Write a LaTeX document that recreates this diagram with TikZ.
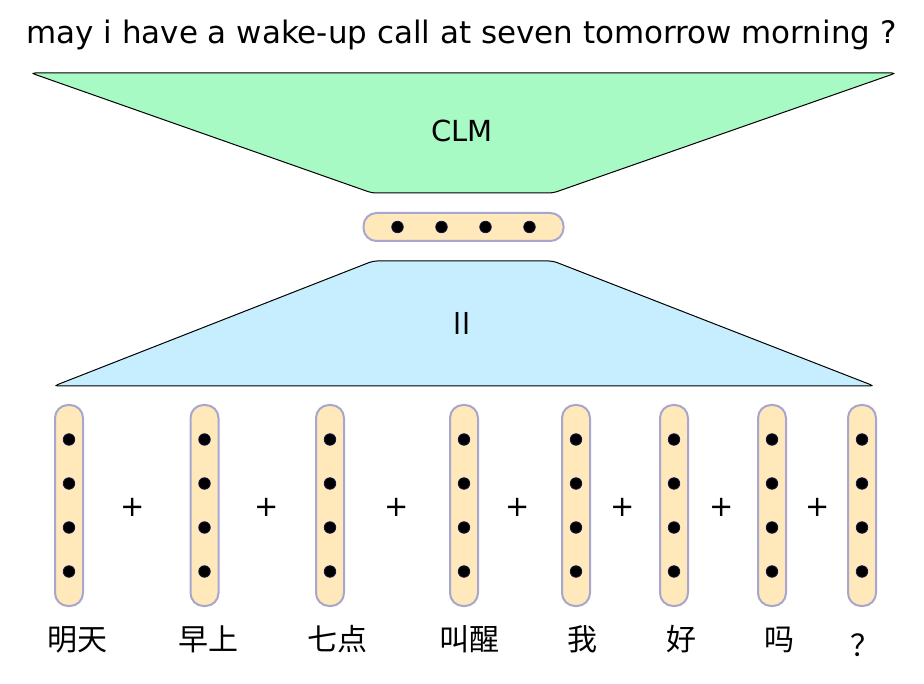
\documentclass[tikz,border=0pt]{standalone}
\usepackage{fontspec}
\setmainfont{DejaVu Sans}
\newfontfamily\cjk{Noto Sans CJK SC}
\definecolor{clmgreen}{RGB}{168,250,196}
\definecolor{llblue}{RGB}{198,238,254}
\definecolor{vecfill}{RGB}{255,232,186}
\definecolor{vecedge}{RGB}{166,166,206}
\definecolor{dotedge}{RGB}{20,20,70}
\tikzset{
  vecbox/.style={draw=vecedge, fill=vecfill, line width=2pt, rounded corners=13pt, inner sep=0pt},
  dot/.style={circle, fill=black, draw=dotedge, line width=0.8pt, minimum size=11.5pt, inner sep=0pt},
  bigtext/.style={font=\fontsize{29}{34}\selectfont},
  cjktext/.style={font=\cjk\fontsize{30}{36}\selectfont},
}
\begin{document}
\begin{tikzpicture}[x=1pt,y=-1pt]
    \useasboundingbox (0,0) rectangle (924,684);

    % Output sentence
    \node[font=\fontsize{30.95}{36}\selectfont, anchor=base] (title) at (461.5,44) {may i have a wake-up call at seven tomorrow morning ?};

    % CLM decoder
    \draw[fill=clmgreen, line width=1pt, rounded corners=4pt] (31,73) -- (896,73) -- (553,193) -- (372,193) -- cycle;
    \node[bigtext] (clm) at (462,131) {CLM};

    % Sentence vector
    \node[vecbox, minimum width=200pt, minimum height=28pt] (sent) at (463.5,227) {};
    \foreach \i/\dx in {1/-66,2/-22,3/22,4/66}
        \node[dot] (s\i) at ([xshift=\dx pt]sent.center) {};

    % ll encoder
    \draw[fill=llblue, line width=1pt, rounded corners=4pt] (373,261) -- (553,261) -- (874,386) -- (54,386) -- cycle;
    \node[bigtext] (ll) at (462,323) {ll};

    % Word vectors
    \foreach \i/\x in {1/69,2/204.5,3/330,4/464,5/576,6/674,7/772,8/862} {
        \node[vecbox, minimum width=28pt, minimum height=201pt] (w\i) at (\x,505.5) {};
        \foreach \j/\dy in {1/66,2/22,3/-22,4/-66}
            \node[dot] (w\i d\j) at ([yshift=\dy pt]w\i.center) {};
    }

    % Plus signs
    \foreach \i/\x in {1/133,2/267,3/397,4/518,5/623,6/722,7/818}
        \node[bigtext] (p\i) at (\x,507) {+};

    % Chinese words
    \foreach \i/\x/\w in {1/77.5/明天,2/208/早上,3/337.5/七点,4/469/叫醒,5/582.5/我,6/681.5/好,7/779/吗}
        \node[cjktext] (t\i) at (\x,639.5) {\w};
    \node[cjktext] (t8) at (865,645) {？};
\end{tikzpicture}
\end{document}
